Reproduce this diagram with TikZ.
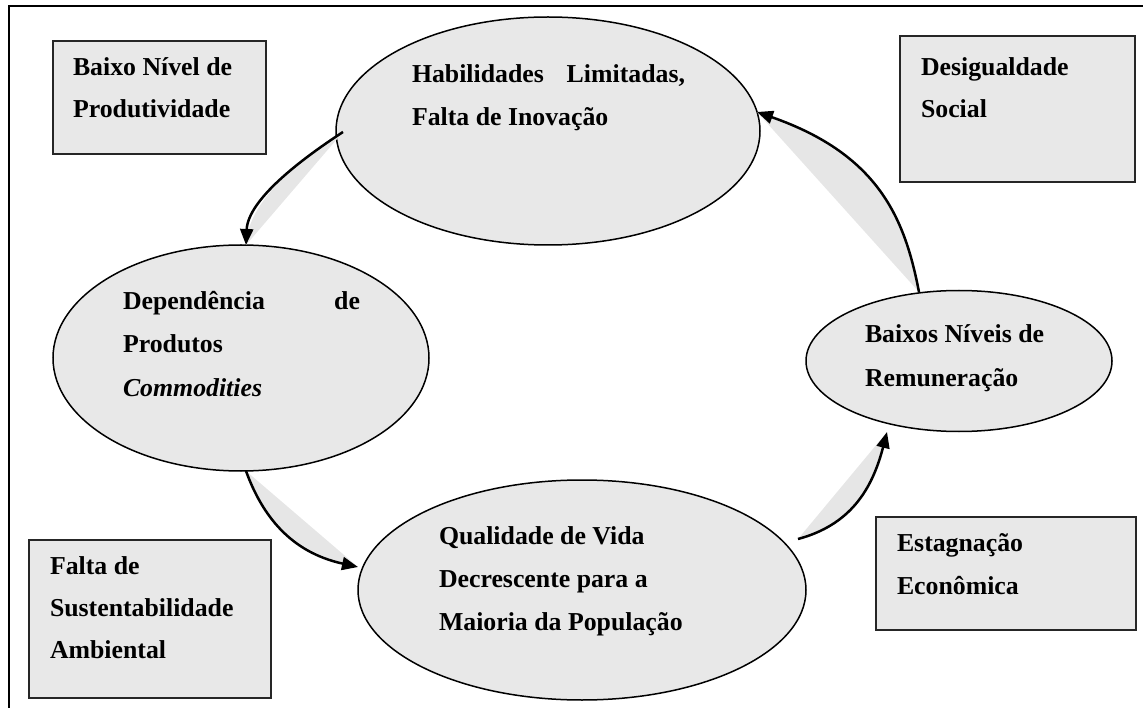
\documentclass[tikz,border=0pt]{standalone}
\usepackage{fontspec}
\setmainfont{Liberation Serif}
\usetikzlibrary{shapes.geometric,arrows.meta}
\definecolor{lightfill}{RGB}{232,232,232}
\definecolor{wedgefill}{RGB}{230,230,230}
\begin{document}
\begin{tikzpicture}[x=1pt,y=-1pt,
  oval/.style={ellipse,draw=black,line width=1.5pt,fill=lightfill,inner sep=0pt,outer sep=0pt},
  boxnode/.style={rectangle,draw=black!85,line width=2pt,fill=lightfill,inner sep=0pt,outer sep=0pt,anchor=north west},
  txt/.style={anchor=base west,inner sep=0pt,outer sep=0pt,font=\fontsize{25.8}{43}\selectfont\bfseries},
  wedge/.style={fill=wedgefill},
  conn/.style={line width=2.5pt,-{Triangle[length=16pt,width=13pt]}},
]
\useasboundingbox (0,0) rectangle (1143,708);
% frame
\draw[line width=2pt] (9,708) -- (9,6) -- (1143,6);

% boxes
\node[boxnode,minimum width=213pt,minimum height=113pt] (bxprod) at (53,41) {};
\node[boxnode,minimum width=235pt,minimum height=146pt] (bxdesig) at (900,36) {};
\node[boxnode,minimum width=260pt,minimum height=113pt] (bxestag) at (876,517) {};
\node[boxnode,minimum width=242pt,minimum height=158pt] (bxfalta) at (29,540) {};

\node[txt] (tprod1) at (73,76) {Baixo Nível de};
\node[txt] (tprod2) at (73,118) {Produtividade};
\node[txt] (tdes1) at (921,76) {Desigualdade};
\node[txt] (tdes2) at (921,118) {Social};
\node[txt] (test1) at (897,551) {Estagnação};
\node[txt] (test2) at (897,594) {Econômica};
\node[txt] (tfal1) at (50,574) {Falta de};
\node[txt] (tfal2) at (50,616) {Sustentabilidade};
\node[txt] (tfal3) at (50,658) {Ambiental};

% ellipses
\node[oval,minimum width=424pt,minimum height=228pt] (etop) at (548,131) {};
\node[oval,minimum width=376pt,minimum height=226pt] (eleft) at (241,358) {};
\node[oval,minimum width=448pt,minimum height=220pt] (ebot) at (582,590) {};
\node[oval,minimum width=306pt,minimum height=141pt] (eright) at (959,361) {};

\node[txt] (ttop1) at (412,83) {\hbox to 273pt{Habilidades\hfill Limitadas,}};
\node[txt] (ttop2) at (412,126) {Falta de Inovação};
\node[txt] (tleft1) at (123,310) {\hbox to 237pt{Dependência\hfill de}};
\node[txt] (tleft2) at (123,353) {Produtos};
\node[txt] (tleft3) at (123,396) {\itshape Commodities};
\node[txt] (tbot1) at (439,544) {Qualidade de Vida};
\node[txt] (tbot2) at (439,587) {Decrescente para a};
\node[txt] (tbot3) at (439,630) {Maioria da População};
\node[txt] (tright1) at (865,343) {Baixos Níveis de};
\node[txt] (tright2) at (865,386) {Remuneração};

% connector end points
\coordinate (s1) at (343,132); \coordinate (e1) at (246,245);
\coordinate (s2) at (246,471); \coordinate (e2) at (358,567);
\coordinate (s3) at (798,539); \coordinate (e3) at (887,432);
\coordinate (s4) at (919,292); \coordinate (e4) at (757,112);

% wedges
\fill[wedge] (s1) .. controls (300,160) and (248,200) .. (e1) -- cycle;
\fill[wedge] (s2) .. controls (262,515) and (290,552) .. (e2) -- cycle;
\fill[wedge] (s3) .. controls (850,525) and (872,490) .. (e3) -- cycle;
\fill[wedge] (s4) .. controls (905,220) and (880,155) .. (e4) -- cycle;

% curved arrows
\draw[conn] (s1) .. controls (300,160) and (248,200) .. (e1);
\draw[conn] (s2) .. controls (262,515) and (290,552) .. (e2);
\draw[conn] (s3) .. controls (850,525) and (872,490) .. (e3);
\draw[conn] (s4) .. controls (905,220) and (880,155) .. (e4);
\end{tikzpicture}
\end{document}
